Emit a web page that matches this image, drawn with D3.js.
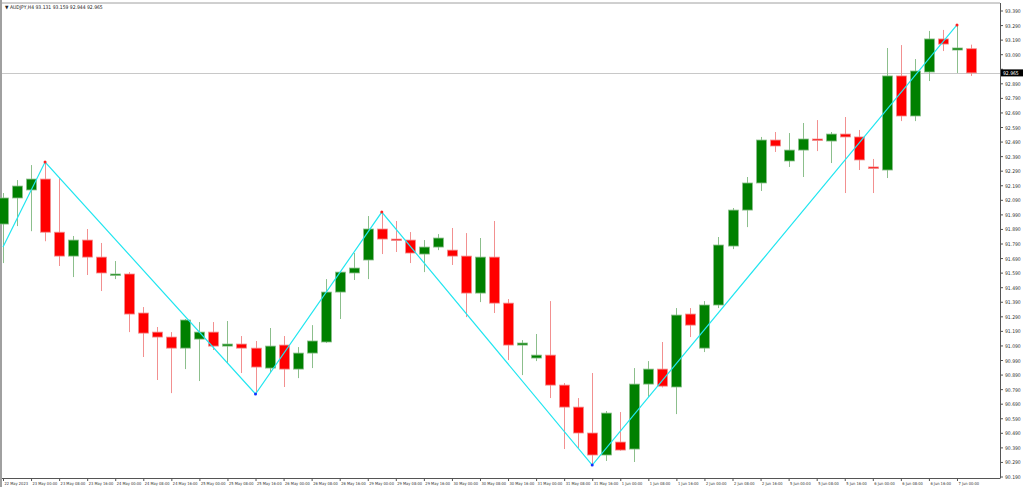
<!DOCTYPE html>
<html><head><meta charset="utf-8">
<script src="https://cdn.jsdelivr.net/npm/d3@7"></script>
<style>body{margin:0;background:#fff}svg{display:block}</style>
</head><body>
<svg id="c" width="1024" height="487"></svg>
<script>
const opens=[91.927,92.106,92.161,92.236,91.871,91.707,91.817,91.700,91.580,91.584,91.316,91.185,91.151,91.075,91.137,91.185,91.089,91.103,91.075,90.938,91.096,90.931,91.041,91.117,91.460,91.591,91.680,91.893,91.824,91.817,91.721,91.769,91.748,91.707,91.453,91.700,91.384,91.096,91.007,91.027,90.821,90.670,90.492,90.341,90.430,90.382,90.828,90.931,90.808,91.309,91.075,91.371,91.776,92.023,92.209,92.504,92.360,92.435,92.511,92.497,92.545,92.525,92.319,92.298,92.944,92.669,92.971,93.198,93.122,93.131];
const highs=[92.140,92.229,92.332,92.353,92.243,91.845,91.893,91.797,91.673,91.597,91.357,91.220,91.185,91.275,91.254,91.254,91.261,91.158,91.124,91.213,91.158,91.082,91.233,91.549,91.600,91.728,91.982,92.009,91.948,91.872,91.817,91.858,91.900,91.865,91.831,91.948,91.412,91.130,91.172,91.398,90.835,90.732,90.904,90.643,90.636,90.938,90.986,91.117,91.350,91.350,91.398,91.838,92.037,92.250,92.525,92.559,92.552,92.621,92.641,92.559,92.662,92.573,92.374,93.136,93.156,93.060,93.253,93.260,93.294,93.159];
const lows=[91.659,91.913,91.878,91.809,91.639,91.563,91.577,91.467,91.549,91.185,91.014,90.856,90.766,90.931,90.849,91.062,90.972,90.904,90.760,90.904,90.808,90.869,90.938,91.110,91.275,91.543,91.549,91.721,91.735,91.659,91.597,91.748,91.646,91.288,91.391,91.316,90.993,90.890,90.986,90.732,90.382,90.389,90.272,90.300,90.370,90.293,90.739,90.805,90.622,91.151,91.048,91.350,91.755,91.906,92.154,92.422,92.319,92.250,92.428,92.346,92.140,92.298,92.140,92.243,92.634,92.634,92.909,93.115,92.964,92.944];
const closes=[92.106,92.188,92.236,91.871,91.707,91.817,91.700,91.591,91.584,91.309,91.178,91.151,91.075,91.268,91.185,91.089,91.103,91.075,90.945,91.089,90.931,91.041,91.124,91.460,91.597,91.625,91.893,91.824,91.817,91.728,91.769,91.831,91.707,91.453,91.700,91.384,91.096,91.110,91.027,90.821,90.670,90.492,90.341,90.629,90.375,90.828,90.931,90.814,91.302,91.233,91.371,91.783,92.023,92.209,92.504,92.463,92.435,92.511,92.504,92.545,92.525,92.367,92.312,92.944,92.669,92.978,93.198,93.163,93.136,92.965];
const zigIdx=[0,3,18,27,42,68];
const zigVal=[91.769,92.353,90.760,92.009,90.272,93.294];
const zigType=["start","high","low","high","low","high"];
const tickIdx=[0,2,4,6,8,10,12,14,16,18,20,22,24,26,28,30,32,34,36,38,40,42,44,46,48,50,52,54,56,58,60,62,64,66,68];
const tickLabels=["22 May 2023","23 May 00:00","23 May 08:00","23 May 16:00","24 May 00:00","24 May 08:00","24 May 16:00","25 May 00:00","25 May 08:00","25 May 16:00","26 May 00:00","26 May 08:00","26 May 16:00","29 May 00:00","29 May 08:00","29 May 16:00","30 May 00:00","30 May 08:00","30 May 16:00","31 May 00:00","31 May 08:00","31 May 16:00","1 Jun 00:00","1 Jun 08:00","1 Jun 16:00","2 Jun 00:00","2 Jun 08:00","2 Jun 16:00","5 Jun 00:00","5 Jun 08:00","5 Jun 16:00","6 Jun 00:00","6 Jun 08:00","6 Jun 16:00","7 Jun 00:00"];
const priceTicks=d3.range(0,33).map(k=>+(93.39-k*0.1).toFixed(3));
const lastPrice=92.965;
const title="▼ AUDJPY,H4  93.131 93.159 92.944 92.965";

const svg=d3.select("#c");
const L=2,R=1000,T=3,B=478;
const x=d3.scaleLinear().domain([0,69]).range([3,971]);
const y=d3.scaleLinear().domain([90.19,93.39]).range([477,11]);
const F="DejaVu Sans Condensed, DejaVu Sans";
svg.append("rect").attr("x",0).attr("y",0).attr("width",2).attr("height",487).attr("fill","#a0a0a0");
svg.append("line").attr("x1",L).attr("x2",R).attr("y1",T).attr("y2",T).attr("stroke","#a0a0a0");
svg.append("line").attr("x1",L).attr("x2",R+0.5).attr("y1",B+0.5).attr("y2",B+0.5).attr("stroke","#555");
svg.append("line").attr("x1",R+0.5).attr("x2",R+0.5).attr("y1",T).attr("y2",B).attr("stroke","#555");
const g=svg.append("g");
priceTicks.forEach(p=>{
  g.append("line").attr("x1",R).attr("x2",R+3).attr("y1",y(p)).attr("y2",y(p)).attr("stroke","#555");
  if(Math.abs(y(p)-y(lastPrice))<7) return;
  g.append("text").attr("x",R+5).attr("y",y(p)+2).attr("font-family",F).attr("font-size",5).attr("fill","#333").text(p.toFixed(3));
});
tickIdx.forEach((i,k)=>{
  g.append("line").attr("x1",x(i)+0.5).attr("x2",x(i)+0.5).attr("y1",B).attr("y2",B+3).attr("stroke","#555");
  g.append("text").attr("x",x(i)+1.5).attr("y",B+7).attr("font-family",F).attr("font-size",4).attr("fill","#333").text(tickLabels[k]);
});
g.append("line").attr("x1",L).attr("x2",R).attr("y1",Math.round(y(lastPrice))+0.5).attr("y2",Math.round(y(lastPrice))+0.5).attr("stroke","#c8c8c8");
const cg=svg.append("g");
opens.forEach((o,i)=>{
  const c=closes[i],up=c>=o,col=up?"#008000":"#ff0000",wk=up?"#8cbf8c":"#f29090";
  const cx=Math.round(x(i))+0.5;
  cg.append("line").attr("x1",cx).attr("x2",cx).attr("y1",y(highs[i])).attr("y2",y(lows[i])).attr("stroke",wk);
  const top=y(Math.max(o,c)),h=Math.max(1.5,Math.abs(y(o)-y(c)));
  cg.append("rect").attr("x",cx-5).attr("y",top).attr("width",10).attr("height",h).attr("fill",col).attr("stroke",wk).attr("stroke-width",0.8);
});
const zl=d3.line().x((d,k)=>x(zigIdx[k])).y(d=>y(d));
svg.append("path").attr("d",zl(zigVal)).attr("fill","none").attr("stroke","#22e6f0").attr("stroke-width",1.2);
zigVal.forEach((v,k)=>{ if(zigType[k]==="start")return;
  svg.append("circle").attr("cx",x(zigIdx[k])).attr("cy",y(v)).attr("r",1.5).attr("fill",zigType[k]==="high"?"#ff2020":"#1030ff");
});
const ly=y(lastPrice);
svg.append("rect").attr("x",R+1).attr("y",ly-3.5).attr("width",22).attr("height",7).attr("fill","#000");
svg.append("text").attr("x",R+3).attr("y",ly+2).attr("font-family",F).attr("font-size",5).attr("fill","#fff").text(lastPrice.toFixed(3));
svg.append("text").attr("x",5).attr("y",9).attr("font-family",F).attr("font-size",5).attr("fill","#222").text(title);
</script></body></html>
